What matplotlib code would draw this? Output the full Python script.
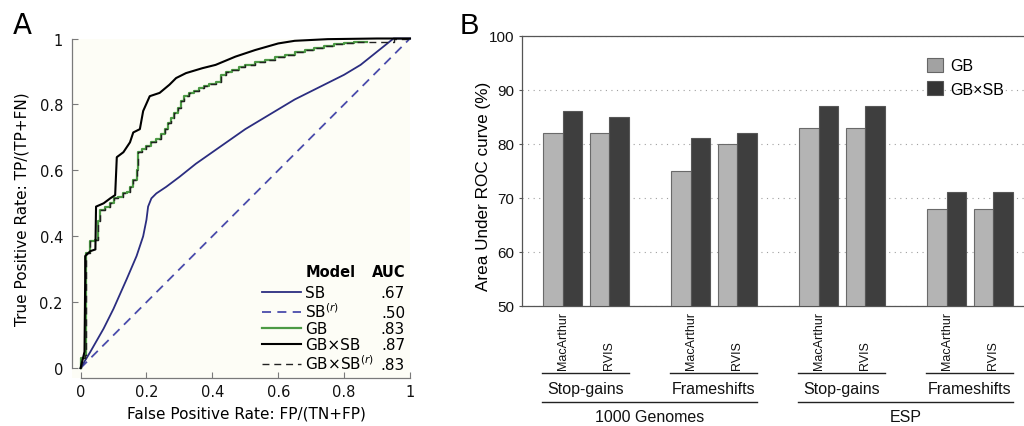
import matplotlib
matplotlib.use("Agg")
import matplotlib.pyplot as plt
from matplotlib.patches import Patch
from matplotlib.transforms import blended_transform_factory

# ---------------- data: panel A (ROC curves) ----------------
sb_fpr = [0, 0.03, 0.07, 0.10, 0.14, 0.17, 0.19, 0.20, 0.205, 0.215, 0.23, 0.26, 0.30,
          0.35, 0.40, 0.45, 0.50, 0.55, 0.60, 0.65, 0.70, 0.75, 0.80, 0.85, 0.90, 0.95, 1.0]
sb_tpr = [0, 0.05, 0.12, 0.18, 0.27, 0.34, 0.40, 0.45, 0.49, 0.515, 0.53, 0.55, 0.58,
          0.62, 0.655, 0.69, 0.725, 0.755, 0.785, 0.815, 0.84, 0.865, 0.89, 0.92, 0.96, 1.0, 1.0]

sbr_fpr = [0, 1]
sbr_tpr = [0, 1]

gb_fpr = [0, 0, 0.013, 0.016, 0.029, 0.044, 0.054, 0.06, 0.075, 0.09, 0.10, 0.115, 0.13,
          0.14, 0.15, 0.16, 0.17, 0.175, 0.185, 0.20, 0.215, 0.23, 0.245, 0.255, 0.265,
          0.275, 0.285, 0.295, 0.305, 0.315, 0.33, 0.345, 0.36, 0.375, 0.39, 0.41, 0.425,
          0.44, 0.46, 0.48, 0.50, 0.53, 0.56, 0.59, 0.62, 0.65, 0.68, 0.71, 0.74, 0.77,
          0.80, 0.83, 0.87]
gb_tpr = [0, 0.03, 0.04, 0.35, 0.385, 0.39, 0.445, 0.48, 0.49, 0.50, 0.515, 0.52, 0.53,
          0.535, 0.55, 0.57, 0.60, 0.655, 0.665, 0.675, 0.685, 0.695, 0.71, 0.725, 0.745,
          0.76, 0.775, 0.79, 0.81, 0.825, 0.835, 0.842, 0.85, 0.855, 0.862, 0.868, 0.89,
          0.897, 0.905, 0.915, 0.92, 0.928, 0.935, 0.943, 0.95, 0.958, 0.965, 0.972, 0.978,
          0.983, 0.986, 0.99, 0.99]

gbsb_fpr = [0, 0.005, 0.012, 0.014, 0.014, 0.03, 0.045, 0.047, 0.07, 0.09, 0.105, 0.11,
            0.13, 0.15, 0.16, 0.18, 0.19, 0.21, 0.24, 0.27, 0.29, 0.32, 0.37, 0.41, 0.47,
            0.53, 0.60, 0.65, 0.75, 0.90, 1.0]
gbsb_tpr = [0, 0.02, 0.05, 0.27, 0.34, 0.355, 0.36, 0.49, 0.50, 0.515, 0.525, 0.64,
            0.655, 0.685, 0.715, 0.725, 0.78, 0.825, 0.835, 0.86, 0.88, 0.895, 0.91, 0.92,
            0.945, 0.965, 0.985, 0.993, 0.998, 1.0, 1.0]

gbsbr_fpr = gb_fpr + [0.95, 1.0]
gbsbr_tpr = gb_tpr + [1.0, 1.0]

model_labels = ["SB", "SB$^{(r)}$", "GB", "GB×SB", "GB×SB$^{(r)}$"]
model_auc = [".67", ".50", ".83", ".87", ".83"]

ticks_a = [0, 0.2, 0.4, 0.6, 0.8, 1.0]
tick_labels_a = ["0", "0.2", "0.4", "0.6", "0.8", "1"]

# ---------------- data: panel B (bars) ----------------
datasets = ["1000 Genomes", "ESP"]
variant_types = ["Stop-gains", "Frameshifts", "Stop-gains", "Frameshifts"]
methods = ["MacArthur", "RVIS"]
auc_gb = [82, 82, 75, 80, 83, 83, 68, 68]
auc_gbsb = [86, 85, 81, 82, 87, 87, 71, 71]
yticks_b = [50, 60, 70, 80, 90, 100]

# ---------------- style ----------------
plt.rcParams["mathtext.fontset"] = "custom"
plt.rcParams["mathtext.rm"] = "DejaVu Sans"
plt.rcParams["mathtext.it"] = "DejaVu Sans:italic"
FA = "DejaVu Sans"
FB = "Liberation Sans"
navy = "#2b2d80"
navy_d = "#4a4cab"
green = "#4c9a44"
spine_c = "#7a7a7a"

W, H = 1024, 427
fig = plt.figure(figsize=(W / 100, H / 100), dpi=100)

# ================= Panel A =================
axA = fig.add_axes([72 / W, 1 - 379 / H, 338 / W, 339.5 / H])
axA.set_facecolor("#fdfdf6")
axA.set_xlim(-0.026, 1.0)
axA.set_ylim(-0.03, 1.0)
for s in ["top", "right"]:
    axA.spines[s].set_visible(False)
for s in ["left", "bottom"]:
    axA.spines[s].set_bounds(0, 1)
    axA.spines[s].set_color(spine_c)
    axA.spines[s].set_linewidth(0.9)
axA.set_xticks(ticks_a)
axA.set_xticklabels(tick_labels_a, fontfamily=FA, fontsize=10.5)
axA.set_yticks(ticks_a)
axA.set_yticklabels(tick_labels_a, fontfamily=FA, fontsize=10.5)
axA.tick_params(axis="both", direction="in", length=4, color=spine_c, labelcolor="#111")
axA.tick_params(axis="x", pad=4.3)
axA.tick_params(axis="y", pad=6.5)

lw = 1.3
h_sb, = axA.plot(sb_fpr, sb_tpr, color=navy, lw=lw, clip_on=False, zorder=3)
h_sbr, = axA.plot(sbr_fpr, sbr_tpr, color=navy_d, lw=lw, dashes=(5, 3.5), clip_on=False, zorder=2)
h_gb, = axA.plot(gb_fpr, gb_tpr, color=green, lw=1.6, drawstyle="steps-post", clip_on=False, zorder=3)
h_gbsbr, = axA.plot(gbsbr_fpr, gbsbr_tpr, color="#222", lw=1.0, dashes=(5, 3.5),
                    drawstyle="steps-post", clip_on=False, zorder=4)
h_gbsb, = axA.plot(gbsb_fpr, gbsb_tpr, color="black", lw=1.5, clip_on=False, zorder=5)

leg = axA.legend([h_sb, h_sbr, h_gb, h_gbsb, h_gbsbr], model_labels,
                 loc="upper left", bbox_to_anchor=(0.55, 0.252), bbox_transform=axA.transData,
                 frameon=False, borderpad=0, borderaxespad=0, handlelength=2.6,
                 handletextpad=0.25, labelspacing=0.08, prop={"family": FA, "size": 11})

axA.text(0.684, 0.292, "Model", transform=axA.transData, fontfamily=FA, fontsize=10.5,
         fontweight="bold", ha="left", va="center")
axA.text(0.985, 0.292, "AUC", transform=axA.transData, fontfamily=FA, fontsize=10.5,
         fontweight="bold", ha="right", va="center")

axA.set_xlabel("False Positive Rate: FP/(TN+FP)", fontfamily=FA, fontsize=11, va="center")
axA.xaxis.set_label_coords((246 - 72) / 338, (379 - 414) / 339.5)
axA.set_ylabel("True Positive Rate: TP/(TP+FN)", fontfamily=FA, fontsize=11, va="center")
axA.yaxis.set_label_coords((22 - 72) / 338, (379 - 209.5) / 339.5)

fig.text(22.5 / W, 1 - 34 / H, "A", fontfamily=FA, fontsize=20, ha="center", va="baseline")

# ================= Panel B =================
axB = fig.add_axes([521.5 / W, 1 - 306.7 / H, 514 / W, 270 / H])
group_step = 1.0
pair_step = 0.365
bar_w = 0.151
gb_x, gbsb_x, pair_x = [], [], []
for i in range(len(auc_gb)):
    g, m = divmod(i, 2)
    x0 = g * group_step + m * pair_step
    gb_x.append(x0)
    gbsb_x.append(x0 + bar_w)
    pair_x.append(x0 + bar_w / 2)

axB.bar(gb_x, [v - 50 for v in auc_gb], bottom=50, width=bar_w, color="#b4b4b4",
        edgecolor="#6a6a6a", linewidth=0.8, zorder=3)
axB.bar(gbsb_x, [v - 50 for v in auc_gbsb], bottom=50, width=bar_w, color="#3e3e3e",
        edgecolor="#575757", linewidth=0.8, zorder=3)
axB.set_xlim(-0.245, 3.77)
axB.set_ylim(50, 100)
axB.set_yticks(yticks_b)
axB.set_yticklabels([str(v) for v in yticks_b], fontfamily=FB, fontsize=11)
axB.tick_params(axis="y", direction="out", length=2.5, pad=2.5, color="#555", labelcolor="#111")
axB.set_xticks([])
for s in axB.spines.values():
    s.set_color("#555")
    s.set_linewidth(0.9)
axB.yaxis.grid(True, linestyle=(0, (1, 4)), color="#a0a0a0", linewidth=0.8)
axB.set_axisbelow(True)

axB.set_ylabel("Area Under ROC curve (%)", fontfamily=FB, fontsize=12.3, va="center")
axB.yaxis.set_label_coords((483.3 - 521.5) / 514, (306.7 - 186) / 270)

tr = blended_transform_factory(axB.transData, axB.transAxes)
for i, x in enumerate(pair_x):
    axB.text(x, (306.7 - 370) / 270, methods[i % 2], transform=tr, rotation=90,
             ha="center", va="bottom", fontfamily=FB, fontsize=9, color="#111")

for g, name in enumerate(variant_types):
    xl = gb_x[2 * g] - bar_w / 2
    xr = gbsb_x[2 * g + 1] + bar_w / 2
    axB.plot([xl - 0.01, xr], [(306.7 - 374.3) / 270] * 2, transform=tr, color="#222",
             lw=1.0, clip_on=False)
    axB.text((xl + xr) / 2, (306.7 - 389.5) / 270, name, transform=tr, ha="center",
             va="center", fontfamily=FB, fontsize=11.5, color="#111")

for d, name in enumerate(datasets):
    xl = gb_x[4 * d] - bar_w / 2
    xr = gbsb_x[4 * d + 3] + bar_w / 2
    axB.plot([xl - 0.01, xr], [(306.7 - 402.7) / 270] * 2, transform=tr, color="#222",
             lw=1.0, clip_on=False)
    axB.text((xl + xr) / 2, (306.7 - 417) / 270, name, transform=tr, ha="center",
             va="center", fontfamily=FB, fontsize=11.5, color="#111")

legB = axB.legend([Patch(facecolor="#a2a2a2", edgecolor="#666", linewidth=0.8),
                   Patch(facecolor="#353535", edgecolor="#555", linewidth=0.8)],
                  ["GB", "GB×SB"], loc="upper left", bbox_to_anchor=(926.7 / W, 1 - 58.5 / H),
                  bbox_transform=fig.transFigure, frameon=False, borderpad=0,
                  borderaxespad=0, handlelength=1.0, handleheight=1.0, handletextpad=0.5,
                  labelspacing=0.5, prop={"family": FB, "size": 11.5})

fig.text(469 / W, 1 - 33.5 / H, "B", fontfamily=FB, fontsize=21, ha="center", va="baseline")

# AUC column aligned with legend rows of panel A
fig.canvas.draw()
inv = axA.transData.inverted()
for t, auc in zip(leg.get_texts(), model_auc):
    bb = t.get_window_extent()
    y = inv.transform((0, bb.y0))[1]
    axA.text(0.985, y, auc, transform=axA.transData, ha="right", va="bottom",
             fontfamily=FA, fontsize=11)

fig.savefig("out.png", dpi=100, facecolor="white")
